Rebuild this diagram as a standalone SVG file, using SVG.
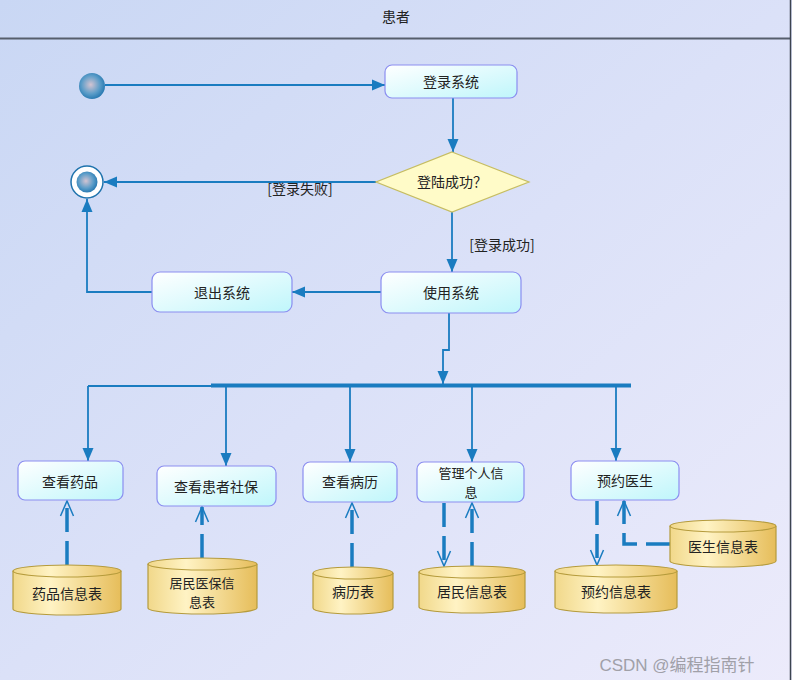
<svg xmlns="http://www.w3.org/2000/svg" width="792" height="680" viewBox="0 0 792 680">
<defs>
<linearGradient id="bg" x1="0" y1="0" x2="1" y2="1">
<stop offset="0" stop-color="#c9d7f4"/>
<stop offset="0.5" stop-color="#dbe1f8"/>
<stop offset="1" stop-color="#ecebfb"/>
</linearGradient>
<linearGradient id="act" x1="0" y1="0" x2="1" y2="1">
<stop offset="0" stop-color="#ffffff"/>
<stop offset="1" stop-color="#bff6fb"/>
</linearGradient>
<linearGradient id="db" x1="0" y1="0" x2="1" y2="0">
<stop offset="0" stop-color="#f1d88a"/>
<stop offset="0.35" stop-color="#fff3c4"/>
<stop offset="1" stop-color="#e6bd5a"/>
</linearGradient>
<radialGradient id="ball" cx="0.45" cy="0.45" r="0.6">
<stop offset="0" stop-color="#d3c4d2"/>
<stop offset="0.6" stop-color="#5a9cc8"/>
<stop offset="1" stop-color="#1f73ad"/>
</radialGradient>
<marker id="fa" markerUnits="userSpaceOnUse" markerWidth="14" markerHeight="12" refX="13" refY="6" orient="auto">
<path d="M0,0.5 L13,6 L0,11.5 z" fill="#1a7cc0"/>
</marker>
<marker id="oa" markerUnits="userSpaceOnUse" markerWidth="18" markerHeight="16" refX="16" refY="8" orient="auto">
<path d="M1,1.5 L16,8 L1,14.5" fill="none" stroke="#1a7cc0" stroke-width="1.5"/>
</marker>
<style>
.t{font-family:"Noto Sans CJK SC","Liberation Sans",sans-serif;font-size:14px;fill:#222;text-anchor:middle;dominant-baseline:central}
.t2{font-size:13px}
.box{fill:url(#act);stroke:#8b8ef0;stroke-width:1.2}
.cyl{fill:url(#db);stroke:#b59b3c;stroke-width:1.2}
.ln{fill:none;stroke:#1a7cc0;stroke-width:1.8}
.ds{fill:none;stroke:#1a7cc0;stroke-width:3.5;stroke-dasharray:24 9}
</style>
</defs>
<rect x="0" y="0" width="792" height="680" fill="url(#bg)"/>
<line x1="0" y1="38.5" x2="790" y2="38.5" stroke="#565e6c" stroke-width="2"/>
<line x1="790.5" y1="0" x2="790.5" y2="680" stroke="#3c4450" stroke-width="1.5"/>
<text class="t" x="396" y="16">患者</text>

<g id="connectors">
<line class="ln" x1="105" y1="85" x2="385" y2="85" marker-end="url(#fa)"/>
<line class="ln" x1="453" y1="98" x2="453" y2="152" marker-end="url(#fa)"/>
<line class="ln" x1="376" y1="182" x2="104" y2="182" marker-end="url(#fa)"/>
<line class="ln" x1="452" y1="212" x2="452" y2="272" marker-end="url(#fa)"/>
<line class="ln" x1="381" y1="292" x2="292" y2="292" marker-end="url(#fa)"/>
<polyline class="ln" points="152,292 87,292 87,199" marker-end="url(#fa)"/>
<polyline class="ln" points="449,313 449,350 443,350 443,384" marker-end="url(#fa)"/>
<line x1="211" y1="385.5" x2="631" y2="385.5" stroke="#1a7cc0" stroke-width="4"/>
<line class="ln" x1="88" y1="386" x2="211" y2="386"/>
<line class="ln" x1="88" y1="386" x2="88" y2="461" marker-end="url(#fa)"/>
<line class="ln" x1="226" y1="387" x2="226" y2="466" marker-end="url(#fa)"/>
<line class="ln" x1="350" y1="387" x2="350" y2="462" marker-end="url(#fa)"/>
<line class="ln" x1="472" y1="387" x2="472" y2="462" marker-end="url(#fa)"/>
<line class="ln" x1="616" y1="387" x2="616" y2="461" marker-end="url(#fa)"/>
<line class="ds" x1="67" y1="565" x2="67" y2="501" marker-end="url(#oa)"/>
<line class="ds" x1="202" y1="558" x2="202" y2="507" marker-end="url(#oa)"/>
<line class="ds" x1="352" y1="567" x2="352" y2="503" marker-end="url(#oa)"/>
<line class="ds" x1="444" y1="503" x2="444" y2="566" marker-end="url(#oa)"/>
<line class="ds" x1="472" y1="566" x2="472" y2="503" marker-end="url(#oa)"/>
<line class="ds" x1="597" y1="501" x2="597" y2="565" marker-end="url(#oa)"/>
<polyline class="ds" points="670,544 624,544 624,501" marker-end="url(#oa)"/>
<text class="t" x="300" y="188">[登录失败]</text>
<text class="t" x="502" y="244">[登录成功]</text>
</g>

<g id="start"><circle cx="92" cy="86" r="13" fill="url(#ball)"/></g>
<g id="final">
<circle cx="87" cy="182" r="16" fill="#ffffff" stroke="#1f73ad" stroke-width="1.5"/>
<circle cx="87" cy="182" r="10.5" fill="url(#ball)"/>
</g>
<g id="login"><rect class="box" x="385" y="65" width="132" height="33" rx="7"/><text class="t" x="451" y="81">登录系统</text></g>
<g id="decision"><polygon points="452,152 529,182 452,212 376,182" fill="#fffbc8" stroke="#c6bd62" stroke-width="1.2"/><text class="t" x="452" y="181">登陆成功？</text></g>
<g id="use"><rect class="box" x="381" y="272" width="140" height="41" rx="8"/><text class="t" x="451" y="292">使用系统</text></g>
<g id="exit"><rect class="box" x="152" y="272" width="140" height="40" rx="8"/><text class="t" x="222" y="292">退出系统</text></g>
<g id="drug"><rect class="box" x="18" y="461" width="105" height="39" rx="7"/><text class="t" x="70" y="481">查看药品</text></g>
<g id="social"><rect class="box" x="157" y="466" width="119" height="40" rx="7"/><text class="t" x="216" y="486">查看患者社保</text></g>
<g id="record"><rect class="box" x="303" y="462" width="94" height="40" rx="7"/><text class="t" x="350" y="481">查看病历</text></g>
<g id="personal"><rect class="box" x="417" y="462" width="107" height="40" rx="7"/><text class="t t2" x="471" y="472">管理个人信</text><text class="t t2" x="471" y="491">息</text></g>
<g id="appoint"><rect class="box" x="571" y="461" width="108" height="39" rx="7"/><text class="t" x="625" y="480">预约医生</text></g>

<g id="db-drug"><path class="cyl" d="M13,571 L13,609 A54,6 0 0 0 121,609 L121,571"/><ellipse class="cyl" cx="67" cy="571" rx="54" ry="6"/><text class="t" x="67" y="593">药品信息表</text></g>
<g id="db-insure"><path class="cyl" d="M148,564 L148,608 A54.5,6 0 0 0 257,608 L257,564"/><ellipse class="cyl" cx="202.5" cy="564" rx="54.5" ry="6"/><text class="t t2" x="202" y="582">居民医保信</text><text class="t t2" x="202" y="601">息表</text></g>
<g id="db-record"><path class="cyl" d="M313,573 L313,608 A40,6 0 0 0 393,608 L393,573"/><ellipse class="cyl" cx="353" cy="573" rx="40" ry="6"/><text class="t" x="353" y="591">病历表</text></g>
<g id="db-resident"><path class="cyl" d="M419,572 L419,607 A53,6 0 0 0 525,607 L525,572"/><ellipse class="cyl" cx="472" cy="572" rx="53" ry="6"/><text class="t" x="472" y="591">居民信息表</text></g>
<g id="db-appoint"><path class="cyl" d="M555,571 L555,607 A61,6 0 0 0 677,607 L677,571"/><ellipse class="cyl" cx="616" cy="571" rx="61" ry="6"/><text class="t" x="616" y="591">预约信息表</text></g>
<g id="db-doctor"><path class="cyl" d="M670,526 L670,561 A53,6 0 0 0 776,561 L776,526"/><ellipse class="cyl" cx="723" cy="526" rx="53" ry="6"/><text class="t" x="723" y="546">医生信息表</text></g>

<text x="677" y="665" font-family="'Liberation Sans','Noto Sans CJK SC',sans-serif" font-size="17" fill="#a0a0a8" text-anchor="middle" dominant-baseline="central">CSDN @编程指南针</text>
</svg>
